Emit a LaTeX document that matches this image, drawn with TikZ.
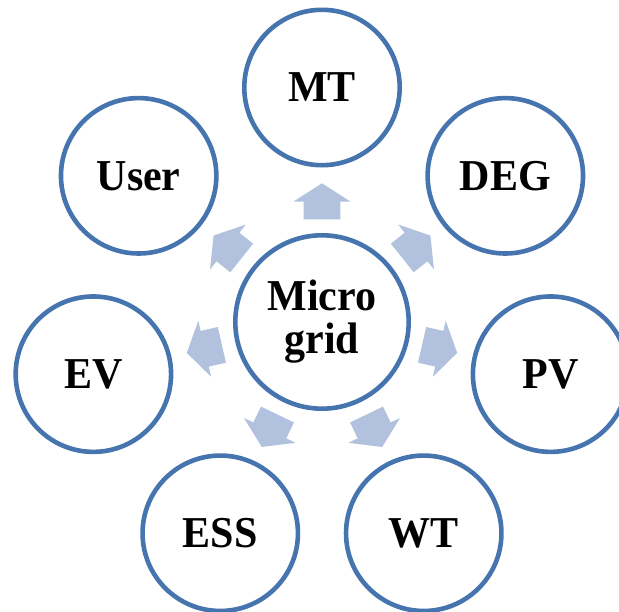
\documentclass[tikz,border=0pt]{standalone}
\usepackage{fontspec}
\usetikzlibrary{calc}
\setmainfont{Liberation Serif}
\definecolor{ringblue}{HTML}{4674AE}
\definecolor{arrowblue}{HTML}{B2C2DE}
\tikzset{
  ring/.style={circle, draw=ringblue, line width=4.6pt, fill=white, inner sep=0pt,
    font=\bfseries\fontsize{42}{43.5}\selectfont, align=center},
  sat/.style={ring, minimum size=155.4pt},
  hub/.style={ring, minimum size=173.4pt},
  blockarrow/.style={fill=arrowblue, draw=none}
}
\newcommand{\tallbox}[1]{\scalebox{1}[1.05]{#1}}
\begin{document}
\begin{tikzpicture}[x=1pt,y=1pt]
\clip (-322,-289) rectangle (297,322);
\fill[white] (-322,-289) rectangle (297,322);
\node[hub] (mg) at (0,0) {\tallbox{Micro}\\[-0.5pt]\tallbox{grid}};
\foreach \a/\n/\t in {90/mt/MT, 38.571/deg/DEG, -12.857/pv/PV, -64.286/wt/WT,
                      -115.714/ess/ESS, -167.143/ev/EV, 141.429/user/User} {
  \node[sat] (\n) at ($(mg.center)+(\a:234.5)$) {\tallbox{\t}};
  \begin{scope}[shift={(mg.center)}, rotate=\a]
    \fill[blockarrow] (102.7,-18.3) -- (120.3,-18.3) -- (120.3,-28.7) -- (138.7,0)
      -- (120.3,28.7) -- (120.3,18.3) -- (102.7,18.3) -- cycle;
  \end{scope}
}
\end{tikzpicture}
\end{document}
